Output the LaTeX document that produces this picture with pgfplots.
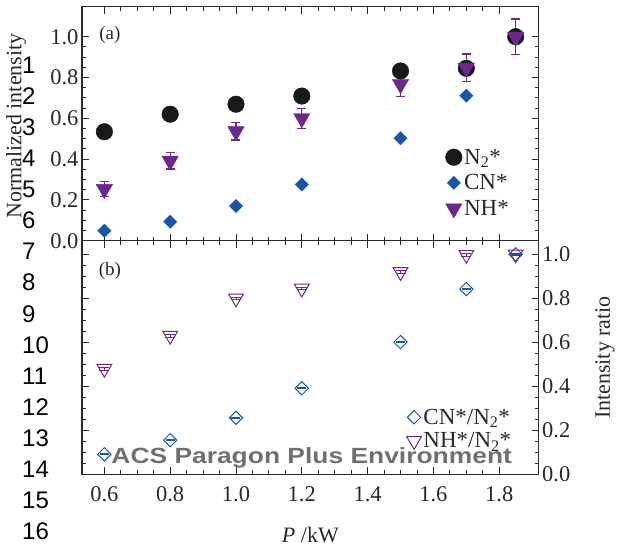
\documentclass[border=0pt]{standalone}
\usepackage{fontspec}
\setmainfont{Liberation Serif}
\newfontfamily\sansf{Liberation Sans}
\usepackage{pgfplots}
\pgfplotsset{compat=1.18}
\definecolor{cnblue}{RGB}{25,86,168}
\definecolor{nhpurple}{RGB}{108,40,140}
\definecolor{txt}{RGB}{40,40,40}
\definecolor{wm}{RGB}{112,112,112}
\pgfplotsset{common/.style={scale only axis, width=456.7pt,
  xmin=0.532, xmax=1.92, xtick={0.6,0.8,1.0,1.2,1.4,1.6,1.8},
  minor x tick num=3, minor y tick num=3, tick align=inside,
  major tick length=7pt, minor tick length=4pt,
  axis line style={line width=1.2pt, color=txt},
  every tick/.style={line width=0.9pt, color=txt},
  tick label style={font=\fontsize{22.5}{26}\selectfont, color=txt},
  label style={font=\fontsize{22}{26}\selectfont, color=txt},
  /pgf/number format/assume math mode=true,
  /pgf/number format/fixed, /pgf/number format/fixed zerofill,
  /pgf/number format/precision=1,
  xticklabel={\pgfmathprintnumber{\tick}},
  yticklabel={\pgfmathprintnumber{\tick}},
  legend cell align=left,
  legend style={draw=none, fill=none, font=\fontsize{23}{27}\selectfont, text=txt},
}}
\begin{document}
\begin{tikzpicture}[x=1pt,y=1pt]
\path[use as bounding box] (0,0) rectangle (620,553);

\begin{axis}[common, at={(82pt,312.3pt)}, anchor=south west, height=234pt,
  ymin=0, ymax=1.147, ytick={0,0.2,0.4,0.6,0.8,1.0}, xticklabels={},
  ylabel={Normalized intensity},
  ylabel style={at={(axis description cs:-0.1445,0.49)}, anchor=center},
  legend image code/.code={\draw[mark repeat=2,mark phase=2,#1] plot coordinates {(0pt,0pt)(10pt,0pt)(24pt,0pt)};},
  legend style={at={(axis description cs:0.789,0.41)}, anchor=north west, row sep=5pt}]
\addplot[only marks, mark=square*, mark size=4.7pt, mark options={rotate=45, fill=cnblue, draw=cnblue}, forget plot] coordinates {(1.85,1.0)};
\addplot[only marks, mark=*, mark size=8.3pt, mark options={fill=black!90, draw=black!90}] coordinates {
(0.6,0.534) (0.8,0.620) (1.0,0.669) (1.2,0.709) (1.5,0.832) (1.7,0.845) (1.85,1.0)};
\addlegendentry{N\textsubscript{2}*}
\addplot[only marks, mark=square*, mark size=4.7pt, mark options={rotate=45, fill=cnblue, draw=cnblue}] coordinates {
(0.6,0.049) (0.8,0.093) (1.0,0.170) (1.2,0.276) (1.5,0.502) (1.7,0.711)};
\addlegendentry{CN*}
\addplot[only marks, mark=triangle*, mark size=9.5pt, mark options={rotate=180, fill=nhpurple, draw=nhpurple},
  error bars/.cd, y dir=both, y explicit,
  error mark options={rotate=90, draw=nhpurple, mark size=4.5pt, line width=1.2pt},
  error bar style={line width=1.2pt, draw=nhpurple}] coordinates {
(0.6,0.2525) +- (0,0.0365)
(0.8,0.391) +- (0,0.040)
(1.0,0.536) +- (0,0.042)
(1.2,0.600) +- (0,0.049)
(1.5,0.767) +- (0,0.061)
(1.7,0.847) +- (0,0.068)
(1.85,0.999) +- (0,0.088)};
\addlegendentry{NH*}
\node[font=\fontsize{19}{21}\selectfont, text=txt] at (axis description cs:0.061,0.879) {(a)};
\end{axis}

\begin{axis}[common, at={(82pt,78.7pt)}, anchor=south west, height=233.6pt,
  ymin=0, ymax=1.062, ytick={0,0.2,0.4,0.6,0.8,1.0}, yticklabel pos=right,
  xlabel={\textit{P} /kW},
  xlabel style={at={(axis description cs:0.5,-0.26)}, anchor=center},
  ylabel={Intensity ratio},
  ylabel style={at={(axis description cs:1.145,0.5)}, anchor=center},
  xticklabel style={yshift=-9pt},
  legend image code/.code={\draw[mark repeat=2,mark phase=2,#1] plot coordinates {(0pt,0pt)(10pt,0pt)(26pt,0pt)};},
  legend style={at={(axis description cs:0.704,0.298)}, anchor=north west, row sep=3pt}]
\addplot[only marks, mark=square, mark size=4.7pt, mark options={rotate=45, draw=cnblue, line width=1pt},
  error bars/.cd, y dir=both, y explicit,
  error mark options={rotate=90, draw=cnblue, mark size=4.5pt, line width=0.8pt},
  error bar style={line width=0.8pt, draw=cnblue}] coordinates {
(0.6,0.091) +- (0,0.002)
(0.8,0.155) +- (0,0.002)
(1.0,0.257) +- (0,0.002)
(1.2,0.391) +- (0,0.002)
(1.5,0.601) +- (0,0.002)
(1.7,0.842) +- (0,0.002)
(1.85,1.0) +- (0,0.002)};
\addlegendentry{CN*/N\textsubscript{2}*}
\addplot[only marks, mark=triangle, mark size=8.5pt, mark options={rotate=180, draw=nhpurple, line width=1pt},
  error bars/.cd, y dir=both, y explicit,
  error mark options={rotate=90, draw=nhpurple, mark size=5pt, line width=0.8pt},
  error bar style={line width=0.8pt, draw=nhpurple}] coordinates {
(0.6,0.480) +- (0,0.006)
(0.8,0.630) +- (0,0.006)
(1.0,0.800) +- (0,0.006)
(1.2,0.845) +- (0,0.006)
(1.5,0.920) +- (0,0.006)
(1.7,0.998) +- (0,0.006)
(1.85,1.0) +- (0,0.006)};
\addlegendentry{NH*/N\textsubscript{2}*}
\node[font=\fontsize{19}{21}\selectfont, text=txt] at (axis description cs:0.061,0.871) {(b)};
\end{axis}

\foreach \n in {1,...,16} {
  \node[anchor=west, inner sep=0pt, font=\sansf\fontsize{24}{24}\selectfont] at (22, {553-65-(\n-1)*31.1}) {\n};
}
\node[anchor=base, inner sep=0pt, text=wm, font=\sansf\bfseries\fontsize{22}{22}\selectfont] at (311.7,89) {\scalebox{1.2}[1]{ACS Paragon Plus Environment}};
\end{tikzpicture}
\end{document}
